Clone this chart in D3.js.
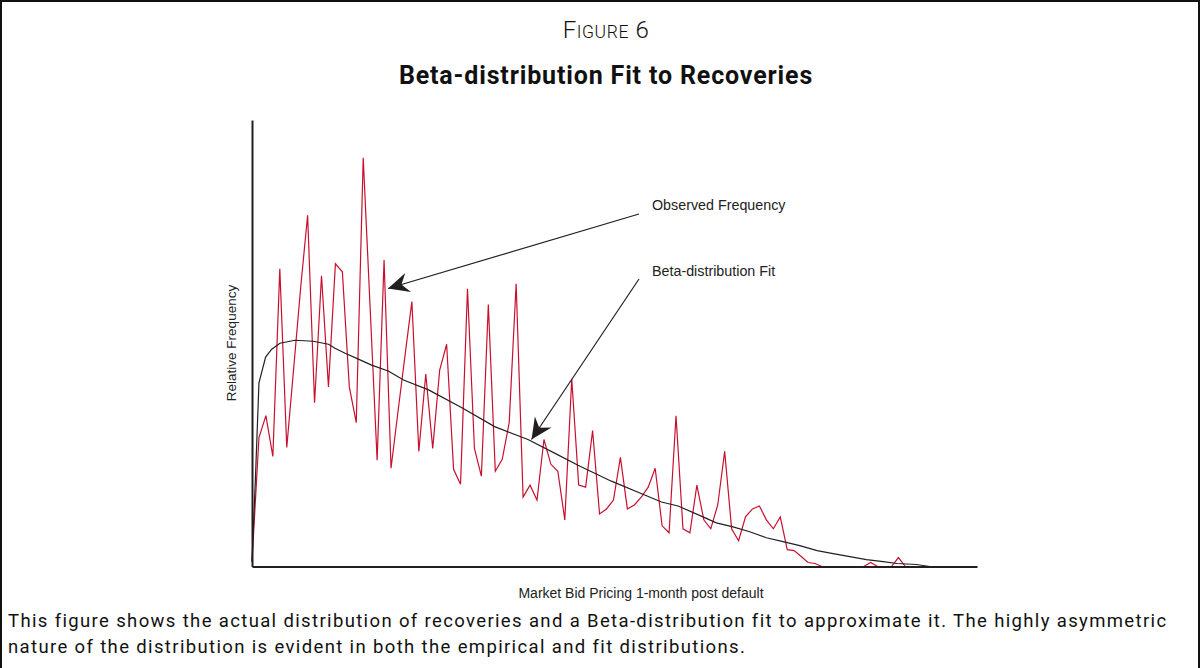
<!DOCTYPE html>
<html>
<head>
<meta charset="utf-8">
<script src="https://cdn.jsdelivr.net/npm/d3@7"></script>
<style>
  html, body { margin: 0; padding: 0; background: #fff; }
  svg { display: block; }
</style>
</head>
<body>
<div class="chart"></div>
<script>
// observed relative frequency per recovery bin (bin index = position in array)
var observed = [
    0.05, 1.30, 1.52, 1.11, 3.00, 1.20, 2.00, 2.81, 3.54, 1.65,
    2.93, 1.81, 3.05, 2.97, 1.81, 1.45, 4.12, 2.60, 1.07, 3.09,
    0.99, 1.56, 2.12, 2.67, 1.16, 1.94, 1.19, 1.98, 2.24, 0.98,
    0.83, 2.80, 1.19, 0.91, 2.64, 0.96, 1.08, 1.45, 2.85, 0.70,
    0.82, 0.67, 1.28, 1.03, 0.96, 0.47, 1.89, 0.82, 0.80, 1.37,
    0.53, 0.58, 0.67, 1.10, 0.58, 0.62, 0.70, 0.80, 0.99, 0.41,
    0.34, 1.52, 0.38, 0.34, 0.82, 0.47, 0.38, 0.62, 1.16, 0.38,
    0.26, 0.50, 0.58, 0.61, 0.47, 0.38, 0.50, 0.17, 0.16, 0.10,
    0.04, 0.03, 0, 0, 0, 0, 0, 0, 0, 0.04,
    0, 0, 0, 0.09, 0
];

// beta-distribution fit
var fitBin = [0, 0.5, 1.0, 1.96, 2.83, 4.02, 6.18, 8.8, 11.0, 11.94, 13.4, 15.3, 17.2, 19.6, 21.8,
    25.4, 30.2, 34.9, 39.7, 43.6, 46.9, 51.7, 56.5, 58.9, 61.3, 65.2, 66.8, 69.2, 71.6,
    74.0, 76.4, 78.8, 81.3, 83.6, 86.0, 88.4, 90.8, 92.8, 95.6, 97.5];
var fitVal = [0.05, 0.9, 1.85, 2.11, 2.19, 2.25, 2.28, 2.27, 2.24, 2.20, 2.15, 2.09, 2.03, 1.97, 1.88,
    1.78, 1.60, 1.41, 1.28, 1.14, 1.02, 0.86, 0.72, 0.65, 0.61, 0.49, 0.44, 0.40, 0.35,
    0.29, 0.25, 0.21, 0.16, 0.13, 0.10, 0.07, 0.05, 0.03, 0.02, 0];

var figureLabel = ['F', 'IGURE', ' 6'];
var title = 'Beta-distribution Fit to Recoveries';
var xLabel = 'Market Bid Pricing 1-month post default';
var yLabel = 'Relative Frequency';
var notes = ['Observed Frequency', 'Beta-distribution Fit'];
var caption = [
    'This figure shows the actual distribution of recoveries and a Beta-distribution fit to approximate it. The highly asymmetric',
    'nature of the distribution is evident in both the empirical and fit distributions.'
];

var W = 1201, H = 668;
var margin = { top: 120, right: 224, bottom: 101.5, left: 252 };
var width = W - margin.left - margin.right;
var height = H - margin.top - margin.bottom;

var svg = d3.select('.chart')
    .append('svg')
    .attr('width', W)
    .attr('height', H);

// frame
svg.append('path')
    .attr('d', 'M1,' + H + ' V1 H1199 V' + H)
    .attr('fill', 'none')
    .attr('stroke', '#111')
    .attr('stroke-width', 2);

// headings
var fig = svg.append('text')
    .attr('x', 606)
    .attr('y', 38)
    .attr('text-anchor', 'middle')
    .style('font-family', 'Roboto, Arial, sans-serif')
    .style('font-weight', 300)
    .style('letter-spacing', '0.6px')
    .style('fill', '#111');
fig.selectAll('tspan')
    .data(figureLabel)
    .enter()
    .append('tspan')
    .style('font-size', (d, i) => i === 1 ? '17.5px' : '24px')
    .text(d => d);

svg.append('text')
    .attr('x', 606)
    .attr('y', 84)
    .attr('text-anchor', 'middle')
    .style('font-family', 'Roboto, Arial, sans-serif')
    .style('font-weight', 'bold')
    .style('font-size', '25px')
    .style('letter-spacing', '0.85px')
    .style('fill', '#111')
    .text(title);

var g = svg.append('g')
    .attr('transform', 'translate(' + margin.left + ', ' + margin.top + ')');

var xScale = d3.scaleLinear()
    .domain([0, 104.3])
    .range([0, width]);

var yScale = d3.scaleLinear()
    .domain([0, 4.5])
    .range([height, 0]);

// observed frequency
var line = d3.line()
    .x((d, i) => xScale(i))
    .y(d => yScale(d));

g.append('path')
    .datum(observed)
    .attr('d', line)
    .attr('fill', 'none')
    .attr('stroke', '#c8102e')
    .attr('stroke-width', 1.2)
    .attr('stroke-linejoin', 'miter');

// beta fit
var fit = fitBin.map((b, i) => ({ bin: b, value: fitVal[i] }));
g.append('path')
    .datum(fit)
    .attr('d', d3.line().x(d => xScale(d.bin)).y(d => yScale(d.value)))
    .attr('fill', 'none')
    .attr('stroke', '#231f20')
    .attr('stroke-width', 1.2);

// axes: plain lines, no ticks
g.append('g')
    .attr('transform', `translate(0, ${height})`)
    .call(d3.axisBottom(xScale).tickValues([]).tickSizeOuter(0))
    .select('.domain')
    .attr('stroke', '#231f20')
    .attr('stroke-width', 2);
g.append('g')
    .call(d3.axisLeft(yScale).tickValues([]).tickSizeOuter(0))
    .select('.domain')
    .attr('stroke', '#231f20')
    .attr('stroke-width', 2);

// axis labels
svg.append('text')
    .attr('x', 641)
    .attr('y', 598)
    .attr('text-anchor', 'middle')
    .style('font-family', 'Liberation Sans, Arial, sans-serif')
    .style('font-size', '14px')
    .style('fill', '#222')
    .text(xLabel);

svg.append('text')
    .attr('transform', 'translate(236, 343) rotate(-90)')
    .attr('text-anchor', 'middle')
    .style('font-family', 'Liberation Sans, Arial, sans-serif')
    .style('font-size', '13.5px')
    .style('fill', '#222')
    .text(yLabel);

// annotations with notched arrowheads
svg.append('defs')
    .append('marker')
    .attr('id', 'head')
    .attr('markerUnits', 'userSpaceOnUse')
    .attr('viewBox', '-22 -11 24 22')
    .attr('refX', 0)
    .attr('refY', 0)
    .attr('markerWidth', 24)
    .attr('markerHeight', 22)
    .attr('orient', 'auto')
    .append('path')
    .attr('d', 'M0,0 L-21,-10 L-14,0 L-21,10 Z')
    .attr('fill', '#231f20');

var arrows = [
    { text: notes[0], tx: 652, ty: 210, x1: 639, y1: 214, x2: 388, y2: 288.5 },
    { text: notes[1], tx: 652, ty: 276, x1: 639, y1: 279, x2: 531.5, y2: 439.5 }
];

arrows.forEach(a => {
    svg.append('line')
        .attr('x1', a.x1).attr('y1', a.y1)
        .attr('x2', a.x2).attr('y2', a.y2)
        .attr('stroke', '#231f20')
        .attr('stroke-width', 1.2)
        .attr('marker-end', 'url(#head)');
    svg.append('text')
        .attr('x', a.tx)
        .attr('y', a.ty)
        .style('font-family', 'Liberation Sans, Arial, sans-serif')
        .style('font-size', '14.3px')
        .style('fill', '#222')
        .text(a.text);
});

// caption
svg.selectAll('.caption')
    .data(caption)
    .enter()
    .append('text')
    .attr('class', 'caption')
    .attr('x', 8)
    .attr('y', (d, i) => 627 + i * 26)
    .style('font-family', 'Roboto, Arial, sans-serif')
    .style('font-size', '18.5px')
    .style('letter-spacing', '1.36px')
    .style('fill', '#111')
    .text(d => d);
</script>
</body>
</html>
